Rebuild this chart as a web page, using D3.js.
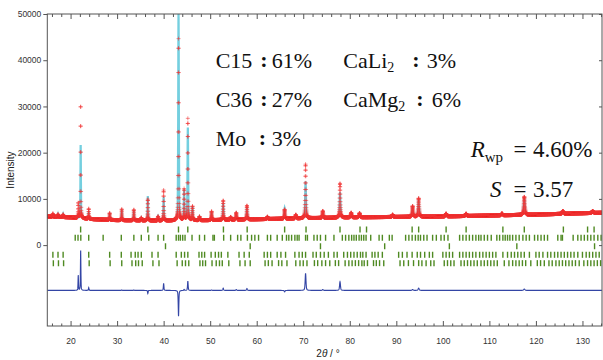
<!DOCTYPE html>
<html>
<head>
<meta charset="utf-8">
<script src="https://cdn.jsdelivr.net/npm/d3@7"></script>
<style>
  body { margin: 0; background: #fff; }
</style>
</head>
<body>
<svg id="chart" width="603" height="360"></svg>
<script>
// background of the pattern (2theta, counts)
const bgAngle  = [15, 20, 25, 30, 40, 50, 60, 70, 80, 90, 100, 110, 120, 130, 134.2];
const bgCounts = [6200, 6000, 5600, 5400, 5300, 5400, 5600, 5800, 6000, 6100, 6200, 6400, 6600, 6900, 7000];

const peakPos  = [16.2, 17.3, 18.4, 21.65, 22.17, 23.9, 28.4, 31.0, 33.6, 35.2, 36.6, 38.8, 40.0, 43.2, 44.4, 45.2, 46.2, 47.7, 50.3, 52.8, 54.4, 55.6, 57.9, 62.3, 66.0, 68.4, 70.5, 74.2, 77.9, 80.3, 82.1, 89.2, 93.5, 94.8, 100.7, 105.0, 112.7, 117.5, 125.8, 132.2];
const peakObs  = [700, 600, 600, 3200, 24700, 2200, 1500, 2400, 2300, 600, 4600, 900, 6600, 39300, 6700, 22000, 3000, 800, 1900, 4200, 600, 1500, 3000, 500, 2000, 800, 11700, 1500, 7400, 1000, 900, 500, 2300, 4000, 600, 500, 400, 3900, 600, 400];
const peakCalc = [700, 600, 600, 0, 16000, 1600, 1500, 2300, 2200, 600, 5300, 900, 5100, 44900, 6500, 20000, 3000, 800, 1800, 3700, 600, 1300, 2600, 500, 2300, 800, 8000, 1300, 5500, 1000, 900, 500, 2100, 3500, 600, 500, 400, 3600, 600, 400];

const diffOffset = -9800;

// Bragg positions of each phase
const braggC15 = [22.16, 36.61, 43.19, 45.19, 52.85, 57.95, 66.0, 70.6, 77.9, 82.2, 83.6, 93.4, 94.8, 100.7, 105.0, 112.9, 117.5, 125.9, 131.1, 132.5];
const braggC36 = [21.0, 21.6, 22.2, 23.9, 27.0, 30.9, 33.6, 35.2, 36.8, 38.8, 40.0, 42.7, 43.2, 43.6, 44.1, 44.6, 46.1, 47.7, 48.8, 50.6, 50.9, 52.9, 54.4, 55.9, 56.6, 58.0, 58.9, 59.6, 60.4, 62.3, 63.0, 64.4, 65.5, 66.4, 66.9, 67.5, 68.2, 68.7, 69.1, 70.5, 70.9, 72.3, 73.0, 73.7, 74.8, 76.6, 78.4, 79.1, 79.8, 80.4, 80.9, 81.4, 82.0, 82.5, 83.0, 83.5, 84.5, 86.3, 87.0, 88.5, 89.1, 92.0, 92.7, 93.4, 94.1, 94.7, 95.2, 95.9, 96.6, 97.8, 98.6, 99.6, 100.3, 101.1, 103.6, 104.3, 105.0, 105.7, 106.4, 107.1, 107.7, 108.2, 108.9, 109.6, 110.4, 111.6, 112.2, 112.9, 113.4, 113.9, 114.4, 115.0, 115.7, 116.4, 117.2, 117.9, 118.6, 119.7, 120.4, 121.1, 121.8, 122.5, 124.7, 125.4, 125.7, 128.0, 129.0, 129.7, 130.4, 131.1, 131.8, 132.5, 133.3, 134.0];
const braggMo  = [40.4, 58.6, 73.7, 87.5, 101.4, 115.9, 132.6];
const braggCaLi2 = [16.2, 17.3, 18.4, 23.9, 28.4, 30.9, 33.0, 33.9, 34.5, 35.2, 37.5, 38.8, 42.7, 43.8, 44.5, 45.2, 47.6, 48.2, 48.8, 50.2, 51.1, 51.8, 52.4, 53.8, 56.2, 57.3, 58.4, 61.6, 62.3, 63.0, 64.4, 65.2, 66.2, 68.2, 69.1, 69.8, 70.5, 72.1, 72.8, 73.7, 74.5, 75.4, 76.6, 77.3, 78.7, 79.5, 80.2, 80.9, 81.6, 82.3, 82.8, 83.5, 84.8, 85.4, 86.1, 87.0, 90.5, 91.3, 92.3, 93.4, 94.5, 95.2, 96.1, 97.1, 97.8, 100.0, 100.7, 101.4, 102.1, 103.6, 104.3, 105.0, 105.7, 106.4, 107.1, 107.9, 108.6, 109.3, 110.0, 110.7, 111.4, 112.9, 113.9, 114.7, 115.4, 116.1, 116.8, 117.5, 118.6, 120.0, 120.7, 121.5, 122.5, 123.2, 124.0, 124.7, 125.4, 126.1, 126.8, 127.5, 128.2, 129.0, 130.0, 130.8, 131.5, 132.2, 132.9, 133.6];
const braggCaMg2 = [16.3, 17.4, 18.5, 24.0, 28.5, 31.0, 33.2, 34.0, 34.6, 35.4, 37.7, 39.0, 42.9, 44.0, 44.7, 45.4, 47.8, 48.4, 49.0, 50.4, 51.3, 52.0, 52.6, 54.0, 56.4, 57.5, 58.6, 61.8, 62.5, 63.3, 64.7, 65.4, 66.5, 68.4, 69.3, 70.0, 70.8, 72.4, 73.1, 74.0, 74.8, 75.7, 76.9, 77.6, 79.0, 79.8, 80.5, 81.2, 81.9, 82.6, 83.1, 83.8, 85.1, 85.7, 86.4, 87.3, 90.8, 91.6, 92.6, 93.7, 94.8, 95.5, 96.4, 97.4, 98.1, 100.3, 101.0, 101.7, 102.4, 103.9, 104.6, 105.3, 106.0, 106.7, 107.4, 108.2, 108.9, 109.6, 110.3, 111.0, 111.7, 113.2, 114.2, 115.0, 115.7, 116.4, 117.1, 117.8, 118.9, 120.3, 121.0, 121.8, 122.8, 123.5, 124.3, 125.0, 125.7, 126.4, 127.1, 127.8, 128.5, 129.3, 130.3, 131.1, 131.8, 132.5, 133.2, 133.9];
// level (in intensity units) of each tick row
const braggRows = [braggC15, braggC36, braggMo, braggCaLi2, braggCaMg2];
const braggLevels = [3400, 1600, -250, -2100, -3900];

// phase fractions
const phaseNames = ["C15", "C36", "Mo", "CaLi", "CaMg"];
const phaseWt = ["61%", "27%", "3%", "3%", "6%"];
const rwp = "4.60%";
const gof = "3.57";

const xTicks = [20, 30, 40, 50, 60, 70, 80, 90, 100, 110, 120, 130];
const yTicks = [0, 10000, 20000, 30000, 40000, 50000];

const svg = d3.select("#chart");
const pLeft = 47.3, pRight = 602, pTop = 14, pBottom = 326;
const sans = "'Liberation Sans', Arial, sans-serif";
const serif = "'Liberation Serif', 'Times New Roman', serif";

const x = d3.scaleLinear().domain([15, 134.2]).range([pLeft, pRight]);
const y = d3.scaleLinear().domain([-17500, 50000]).range([pBottom, pTop]);
const bg = d3.scaleLinear().domain(bgAngle).range(bgCounts);

svg.append("defs").append("clipPath").attr("id", "plot")
  .append("rect").attr("x", pLeft).attr("y", pTop)
  .attr("width", pRight - pLeft).attr("height", pBottom - pTop);

// peak profile (pseudo-Voigt)
function shape(t, p) {
  const w = 0.10 + 0.002 * (p - 15);
  const d = (t - p) * (t - p) / (w * w);
  return 0.5 / (1 + 4 * d) + 0.5 * Math.exp(-4 * Math.LN2 * d);
}

const angles = d3.range(15, 134.2, 0.02);
const pattern = angles.map(function(t) {
  let o = bg(t), c = bg(t);
  for (let i = 0; i < peakPos.length; i++) {
    if (Math.abs(t - peakPos[i]) > 4) continue;
    const s = shape(t, peakPos[i]);
    o += peakObs[i] * s;
    c += peakCalc[i] * s;
  }
  return {t: t, obs: o, calc: c, diff: o - c + diffOffset};
});

const g = svg.append("g").attr("clip-path", "url(#plot)");

// calculated profile
g.append("path")
  .datum(pattern)
  .attr("fill", "none")
  .attr("stroke", "#74cfdf")
  .attr("stroke-width", 2.2)
  .attr("d", d3.line().x(d => x(d.t)).y(d => y(d.calc)));

// observed points as plus markers
let plus = "";
pattern.forEach(function(d) {
  const px = x(d.t), py = y(d.obs);
  plus += "M" + (px - 2).toFixed(2) + "," + py.toFixed(2) + "h4M" + px.toFixed(2) + "," + (py - 2).toFixed(2) + "v4";
});
g.append("path")
  .attr("d", plus)
  .attr("fill", "none")
  .attr("stroke", "#f03434")
  .attr("stroke-opacity", 0.7)
  .attr("stroke-width", 0.8);

// bragg tick rows
braggRows.forEach(function(row, i) {
  g.append("g").selectAll("line")
    .data(row)
    .enter()
    .append("line")
    .attr("x1", d => x(d))
    .attr("x2", d => x(d))
    .attr("y1", y(braggLevels[i] + 650))
    .attr("y2", y(braggLevels[i] - 650))
    .attr("stroke", "#4f8a22")
    .attr("stroke-width", 1.4);
});

// difference curve
g.append("path")
  .datum(pattern)
  .attr("fill", "none")
  .attr("stroke", "#3345a5")
  .attr("stroke-width", 1.1)
  .attr("d", d3.line().x(d => x(d.t)).y(d => y(d.diff)));

// axes
const minor = d3.range(16, 135, 2).filter(v => v % 10 !== 0);

function styleAxis(a) {
  a.select(".domain").remove();
  a.selectAll("line").attr("stroke", "#555");
  a.selectAll("text").attr("fill", "#333").style("font-size", "8.5px").style("font-family", sans);
}

svg.append("g").attr("transform", "translate(0," + pBottom + ")")
  .call(d3.axisBottom(x).tickValues(xTicks).tickSize(-5).tickPadding(12))
  .call(styleAxis);
svg.append("g").attr("transform", "translate(0," + pBottom + ")")
  .call(d3.axisBottom(x).tickValues(minor).tickSize(-2.5).tickFormat(""))
  .call(styleAxis);
svg.append("g").attr("transform", "translate(0," + pTop + ")")
  .call(d3.axisTop(x).tickValues(xTicks).tickSize(-5).tickFormat(""))
  .call(styleAxis);
svg.append("g").attr("transform", "translate(0," + pTop + ")")
  .call(d3.axisTop(x).tickValues(minor).tickSize(-3).tickFormat(""))
  .call(styleAxis);
svg.append("g").attr("transform", "translate(" + pLeft + ",0)")
  .call(d3.axisLeft(y).tickValues(yTicks).tickSize(4).tickPadding(2).tickFormat(d3.format("d")))
  .call(styleAxis);
svg.append("g").attr("transform", "translate(" + pRight + ",0)")
  .call(d3.axisRight(y).tickValues(yTicks).tickSize(-3).tickFormat(""))
  .call(styleAxis);

svg.append("rect")
  .attr("x", pLeft).attr("y", pTop)
  .attr("width", pRight - pLeft).attr("height", pBottom - pTop)
  .attr("fill", "none").attr("stroke", "#555").attr("stroke-width", 1);

// axis titles
svg.append("text")
  .attr("transform", "translate(14,170) rotate(-90)")
  .attr("text-anchor", "middle")
  .style("font-family", sans).style("font-size", "10px")
  .attr("fill", "#222")
  .text("Intensity");

const xt = svg.append("text")
  .attr("x", 328).attr("y", 357)
  .attr("text-anchor", "middle")
  .style("font-family", sans).style("font-size", "10px")
  .attr("fill", "#222");
xt.append("tspan").text("2");
xt.append("tspan").style("font-style", "italic").text("θ");
xt.append("tspan").text(" / °");

// phase fractions
const rowsY = [68, 107, 146, 68, 107];
const nameX = [215.7, 215.7, 215.7, 343.3, 343.3];
const colonX = [264, 264, 262.5, 416, 420];
const valX = [271.7, 271.7, 271.7, 426.7, 431.7];

function serifText(px, py, size) {
  return svg.append("text").attr("x", px).attr("y", py)
    .style("font-family", serif).style("font-size", size + "px").attr("fill", "#111");
}

phaseNames.forEach(function(n, i) {
  const t = serifText(nameX[i], rowsY[i], 22);
  t.append("tspan").text(n);
  if (i >= 3) {
    t.append("tspan").style("font-size", "14px").attr("dy", 4).text("2");
  }
  serifText(colonX[i], rowsY[i] - 1, 22)
    .attr("text-anchor", "middle")
    .style("font-weight", "bold")
    .text(":");
  serifText(valX[i], rowsY[i], 22).text(phaseWt[i]);
});

// fit quality
const r = serifText(470.7, 157, 23);
r.append("tspan").style("font-style", "italic").text("R");
r.append("tspan").style("font-size", "15px").attr("dy", 5).text("wp");
serifText(520, 157, 23).attr("text-anchor", "middle").text("=");
serifText(533, 157, 23).text(rwp);

serifText(490, 197, 23).style("font-style", "italic").text("S");
serifText(520, 197, 23).attr("text-anchor", "middle").text("=");
serifText(533, 197, 23).text(gof);
</script>
</body>
</html>
